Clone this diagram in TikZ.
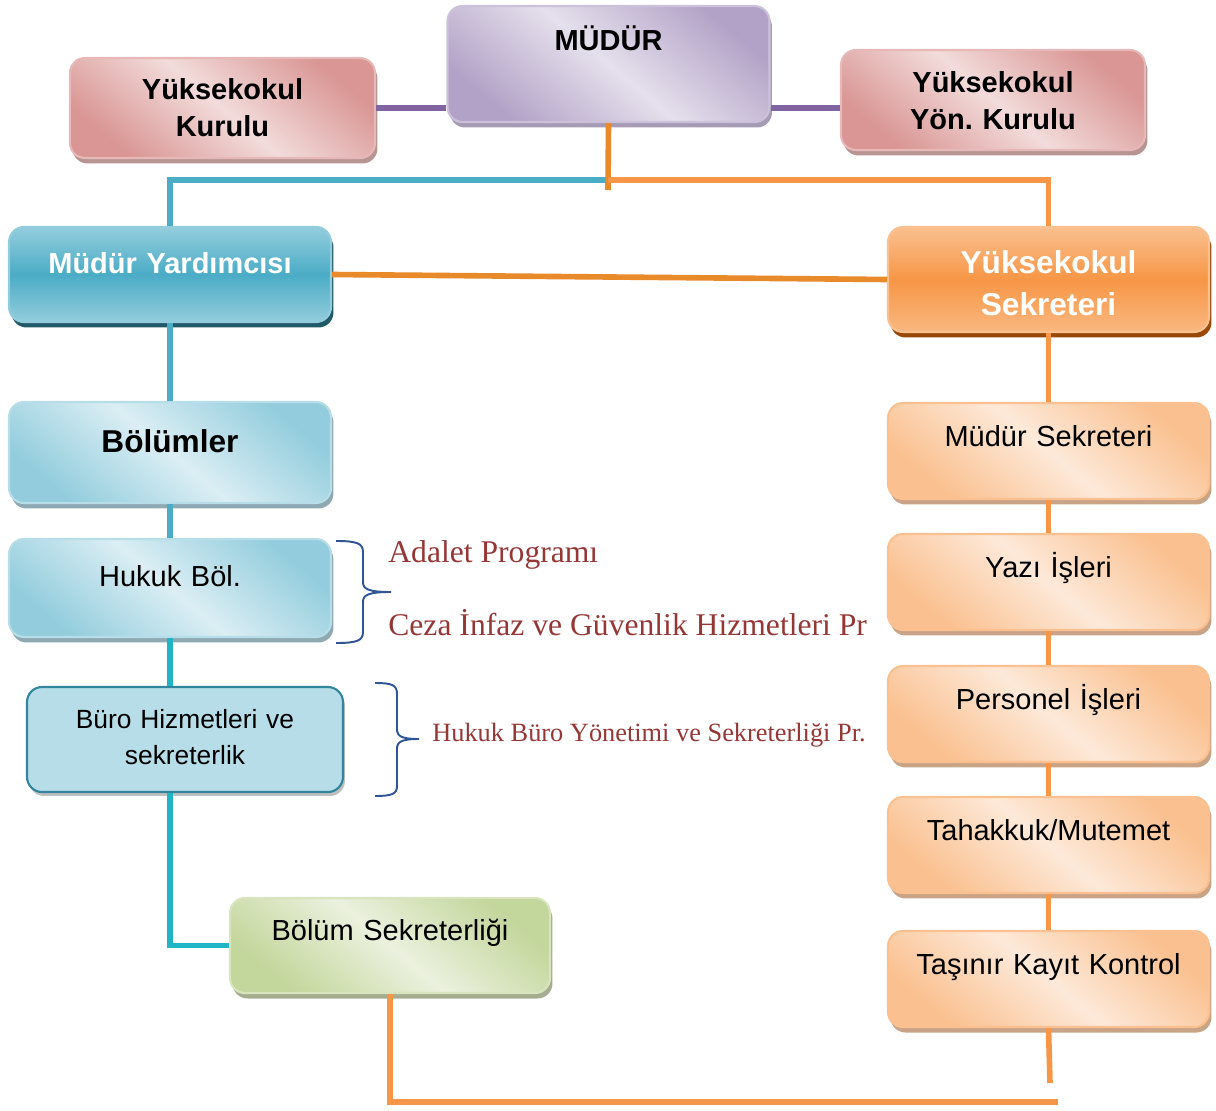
\documentclass[tikz,border=0pt]{standalone}
\usepackage{fontspec}
\setmainfont{Liberation Sans}
\newfontfamily\timesfont{Liberation Serif}
\usetikzlibrary{shadows}

\definecolor{pinkdark}{HTML}{D99694}
\definecolor{pinklight}{HTML}{F2DCDB}
\definecolor{pinkline}{HTML}{E6B9B8}
\definecolor{pinkshadow}{HTML}{B89593}
\definecolor{purpdark}{HTML}{B3A2C7}
\definecolor{purplight}{HTML}{E5E0EC}
\definecolor{purpline}{HTML}{CCC1DA}
\definecolor{purpshadow}{HTML}{A69BB4}
\definecolor{bluedark}{HTML}{93CDDD}
\definecolor{bluelight}{HTML}{DBEEF4}
\definecolor{blueline}{HTML}{B7DEE8}
\definecolor{blueshadow}{HTML}{8EA9B1}
\definecolor{peachdark}{HTML}{FAC08F}
\definecolor{peachlight}{HTML}{FDE9D9}
\definecolor{peachshadow}{HTML}{C9A386}
\definecolor{greendark}{HTML}{C3D69B}
\definecolor{greenlight}{HTML}{EBF1DE}
\definecolor{greenline}{HTML}{D7E4BD}
\definecolor{greenshadow}{HTML}{A5AD90}
\definecolor{accteal}{HTML}{4BACC6}
\definecolor{tealshadow}{HTML}{215968}
\definecolor{accorange}{HTML}{F79646}
\definecolor{orangeshadow}{HTML}{984807}
\definecolor{burofill}{HTML}{B7DEE8}
\definecolor{buroline}{HTML}{31859C}
\definecolor{linecyan}{HTML}{1FB4C6}
\definecolor{lineorange}{HTML}{F79646}
\definecolor{lineorangedk}{HTML}{E8892A}
\definecolor{linepurple}{HTML}{8064A2}
\definecolor{progred}{HTML}{953735}
\definecolor{bracecol}{HTML}{2F5597}

\begin{document}
\begin{tikzpicture}[
x=0.02cm, y=-0.02cm,
box/.style={rectangle, rounded corners=0.3cm, align=center, inner sep=0pt, line width=1.2pt, font=\fontsize{16.5}{21}\selectfont},
boxdim/.style n args={3}{text width=#1cm, text height=#2cm, text depth=#3cm},
boxshadow/.style={drop shadow={fill=#1, opacity=1, shadow xshift=0.05cm, shadow yshift=-0.11cm}},
diag/.style 2 args={top color=#1, bottom color=#1, middle color=#2, shading angle=-40},
pinkbox/.style={box, draw=pinkline, diag={pinkdark}{pinklight}, boxshadow=pinkshadow},
purpbox/.style={box, draw=purpline, diag={purpdark}{purplight}, boxshadow=purpshadow},
bluebox/.style={box, draw=blueline, diag={bluedark}{bluelight}, boxshadow=blueshadow},
peachbox/.style={box, draw=peachdark, diag={peachdark}{peachlight}, boxshadow=peachshadow, boxdim={6.42}{0.87}{1.05}},
greenbox/.style={box, draw=greenline, diag={greendark}{greenlight}, boxshadow=greenshadow},
tealbox/.style={box, draw=bluedark, top color=bluedark, bottom color=bluedark, middle color=accteal, boxshadow=tealshadow, text=white},
orangebox/.style={box, draw=peachdark, top color=peachdark, bottom color=peachdark!80!accorange, middle color=accorange, boxshadow=orangeshadow, text=white},
burobox/.style={box, draw=buroline, fill=burofill, drop shadow={fill=black!25, opacity=1, shadow xshift=0.04cm, shadow yshift=-0.08cm}},
prog/.style={text=progred, inner sep=0pt, font=\timesfont\fontsize{18}{22}\selectfont},
link/.style={line width=3.2pt},
brc/.style={draw=bracecol, line width=1.1pt}
]
	% top row
	\node[purpbox, boxdim={6.44}{0.9}{1.42}] at (608.5,64) (mudur) {\bfseries MÜDÜR};
	\node[pinkbox, boxdim={6.1}{0.84}{1.16}] at (222.5,108) (kurul) {\bfseries Yüksekokul\\\bfseries Kurulu};
	\node[pinkbox, boxdim={6.08}{0.86}{1.14}] at (993,100) (yon) {\bfseries Yüksekokul\\\bfseries Yön.\ Kurulu};

	\node[tealbox, boxdim={6.44}{0.92}{0.98}] at (170,274.5) (yard) {\bfseries Müdür Yardımcısı};
	\node[orangebox, boxdim={6.42}{0.92}{1.18}, font=\fontsize{18}{24}\selectfont] at (1048.5,279.5) (ysek) {\bfseries Yüksekokul\\\bfseries Sekreteri};

	% left column
	\node[bluebox, boxdim={6.44}{1.0}{1.02}, font=\fontsize{18}{22}\selectfont] at (170,452.5) (bol) {\bfseries Bölümler};
	\node[bluebox, boxdim={6.44}{0.94}{1.02}] at (170,588) (huk) {Hukuk Böl.};
	\node[burobox, boxdim={6.32}{0.82}{1.28}, font=\fontsize{15}{21}\selectfont] at (185,739.5) (buro) {Büro Hizmetleri ve\\sekreterlik};
	\node[greenbox, boxdim={6.4}{0.84}{1.06}] at (390,945.5) (bsek) {Bölüm Sekreterliği};

	% right column
	\node[peachbox] at (1048.5,451) (msek) {Müdür Sekreteri};
	\node[peachbox] at (1048.5,582) (yazi) {Yazı İşleri};
	\node[peachbox] at (1048.5,714) (pers) {Personel İşleri};
	\node[peachbox] at (1048.5,845) (tah) {Tahakkuk/Mutemet};
	\node[peachbox] at (1048.5,979) (tas) {Taşınır Kayıt Kontrol};

	% programmes
	\node[prog, anchor=base west] at (388,562) (adalet) {Adalet Programı};
	\node[prog, anchor=base west] at (388,635) (ceza) {Ceza İnfaz ve Güvenlik Hizmetleri Pr};
	\node[prog, anchor=base west, font=\timesfont\fontsize{15}{18}\selectfont] at (432,741) (hbyp) {Hukuk Büro Yönetimi ve Sekreterliği Pr.};

	\draw[brc] (336,541) .. controls (356,541) and (363,543) .. (363,552)
		-- (363,582) .. controls (363,589) and (368,592) .. (391,592)
		.. controls (368,592) and (363,595) .. (363,602)
		-- (363,632) .. controls (363,641) and (356,643) .. (336,643);
	\draw[brc] (375,683) .. controls (392,683) and (397,685) .. (397,694)
		-- (397,729) .. controls (397,736) and (401,739) .. (419,739)
		.. controls (401,739) and (397,742) .. (397,749)
		-- (397,786) .. controls (397,794) and (392,796) .. (375,796);

	% connectors
	\coordinate (tj) at (608,180);
	\coordinate (tjd) at (608,190);
	\coordinate (tend) at (1050,1083);
	\coordinate (bend) at (1058,1102);

	\draw[link, linepurple] (kurul.east) -- (kurul.east -| mudur.west);
	\draw[link, linepurple] (kurul.east -| mudur.east) -- (kurul.east -| yon.west);

	\draw[link, accteal] (yard.north) |- (tj);
	\draw[link, lineorangedk] (mudur.south) -- (tjd);
	\draw[link, lineorange] (tj) -| (ysek.north);
	\draw[link, lineorangedk] (yard.east) -- (ysek.west);

	\draw[link, accteal] (yard.south) -- (bol.north);
	\draw[link, accteal] (bol.south) -- (huk.north);
	\draw[link, linecyan] (huk.south) -- (huk.south |- buro.north);
	\draw[link, linecyan] (huk.south |- buro.south) |- (bsek.west);

	\draw[link, lineorange] (ysek.south) -- (msek.north);
	\draw[link, lineorange] (msek.south) -- (yazi.north);
	\draw[link, lineorange] (yazi.south) -- (pers.north);
	\draw[link, lineorange] (pers.south) -- (tah.north);
	\draw[link, lineorange] (tah.south) -- (tas.north);
	\draw[link, lineorange] (tas.south) -- (tend);
	\draw[link, lineorange] (bsek.south) |- (bend);

	\useasboundingbox (0,0) rectangle (1216,1111);
\end{tikzpicture}
\end{document}
